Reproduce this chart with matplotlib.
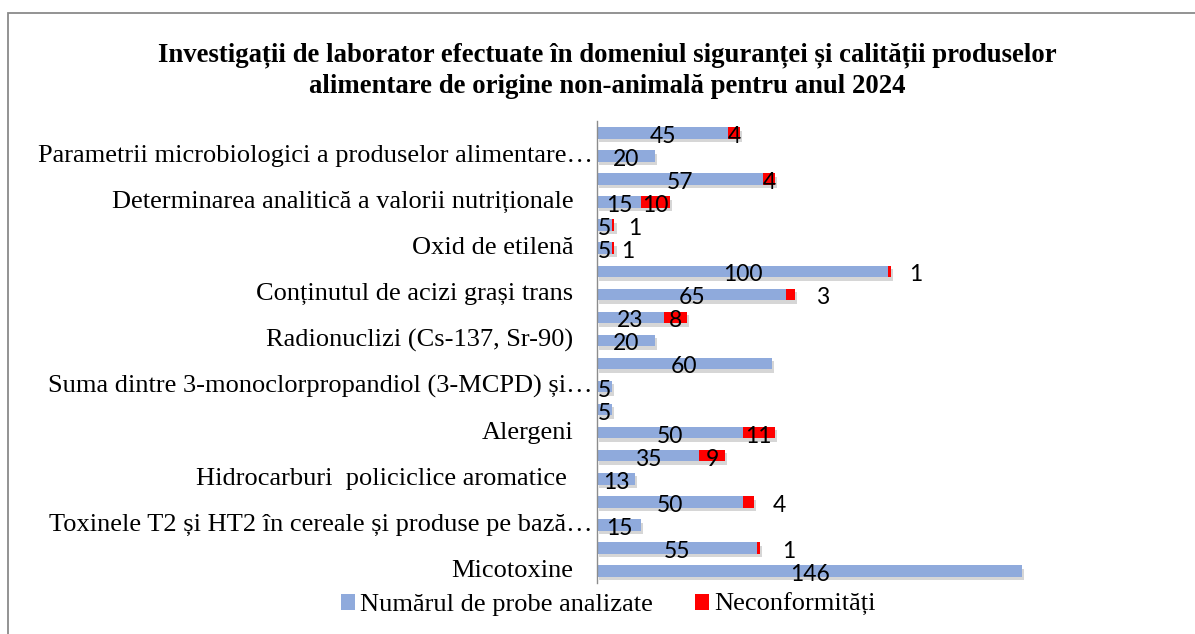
import matplotlib.pyplot as plt
import matplotlib.patheffects as pe
from matplotlib.patches import Rectangle
import numpy as np

# rows from top to bottom, two rows per category (label on the second one)
categories = [
    "Parametrii microbiologici a produselor alimentare…",
    "Determinarea analitică a valorii nutriționale",
    "Oxid de etilenă",
    "Conținutul de acizi grași trans",
    "Radionuclizi (Cs-137, Sr-90)",
    "Suma dintre 3-monoclorpropandiol (3-MCPD) și…",
    "Alergeni",
    "Hidrocarburi  policiclice aromatice ",
    "Toxinele T2 și HT2 în cereale și produse pe bază…",
    "Micotoxine",
]
probe = [45, 20, 57, 15, 5, 5, 100, 65, 23, 20, 60, 5, 5, 50, 35, 13, 50, 15, 55, 146]
neconf = [4, 0, 4, 10, 1, 1, 1, 3, 8, 0, 0, 0, 0, 11, 9, 0, 4, 0, 1, 0]

title = ("Investigații de laborator efectuate în domeniul siguranței și calității produselor\n"
         "alimentare de origine non-animală pentru anul 2024")
legend_labels = ["Numărul de probe analizate", "Neconformități"]

BLUE = "#8faadc"
RED = "#ff0000"
SERIF = ["Liberation Serif", "DejaVu Serif"]
SANS = ["Lato", "DejaVu Sans"]
NUM_SIZE = 16.5

# red labels that Excel left outside the bar (row index -> offset in points)
outside = {4: 10, 5: 5, 6: 13, 7: 15, 16: 13, 18: 16}

fig = plt.figure(figsize=(11.95, 6.34), dpi=100)
ax = fig.add_axes([0.4996, 0.0812, 0.39, 0.7272])

y = np.arange(len(probe))
shadow = [pe.SimplePatchShadow(offset=(1.5, -2.5), shadow_rgbFace="#8a8a8a", alpha=0.35),
          pe.Normal()]
b1 = ax.barh(y, probe, height=0.5, color=BLUE, path_effects=shadow, zorder=2)
b2 = ax.barh(y, neconf, left=probe, height=0.5, color=RED, path_effects=shadow, zorder=3)

for i, (p, n) in enumerate(zip(probe, neconf)):
    ax.annotate(str(p), (p / 2, i), xytext=(0, -2.5), textcoords="offset points",
                ha="center", va="center", fontsize=NUM_SIZE, family=SANS, zorder=5)
    if n > 0:
        if i in outside:
            ax.annotate(str(n), (p + n, i), xytext=(outside[i], -2.5),
                        textcoords="offset points", ha="left", va="center",
                        fontsize=NUM_SIZE, family=SANS, zorder=5)
        else:
            ax.annotate(str(n), (p + n / 2, i), xytext=(0, -2.5),
                        textcoords="offset points", ha="center", va="center",
                        fontsize=NUM_SIZE, family=SANS, zorder=5)

# category labels on every second row; Excel's truncated ones run a bit further right
for k, c in enumerate(categories):
    dx = -3 if c.endswith("…") else -17
    ax.annotate(c, (0, 2 * k + 1), xycoords=("axes fraction", "data"),
                xytext=(dx, 0), textcoords="offset points", ha="right", va="center",
                fontsize=19, family=SERIF)

ax.set_ylim(len(probe) - 0.5, -0.5)
ax.set_xlim(0, 160)
ax.set_xticks([])
ax.set_yticks([])
for s in ["top", "right", "bottom"]:
    ax.spines[s].set_visible(False)
ax.spines["left"].set_color("#8c8c8c")
ax.spines["left"].set_linewidth(1.0)

fig.text(0.508, 0.889, title, ha="center", va="center", fontsize=19.3,
         fontweight="bold", family=SERIF, linespacing=1.3)

leg = fig.legend([b1, b2], legend_labels, loc="center", bbox_to_anchor=(0.509, 0.046),
                 ncol=2, frameon=False, prop={"family": SERIF, "size": 19},
                 handlelength=0.53, handleheight=0.53, handletextpad=0.2,
                 columnspacing=1.6, borderpad=0.1)
for h in leg.legend_handles:
    h.set_path_effects([])

# outer chart border (cut by the image edges on the right and bottom)
fig.patches.append(Rectangle((8 / 1195, -0.1), 1.2, 1.1 - 13 / 634,
                             transform=fig.transFigure, fill=False,
                             edgecolor="#8a8a8a", linewidth=1.3))

fig.savefig("out.png", dpi=100)
